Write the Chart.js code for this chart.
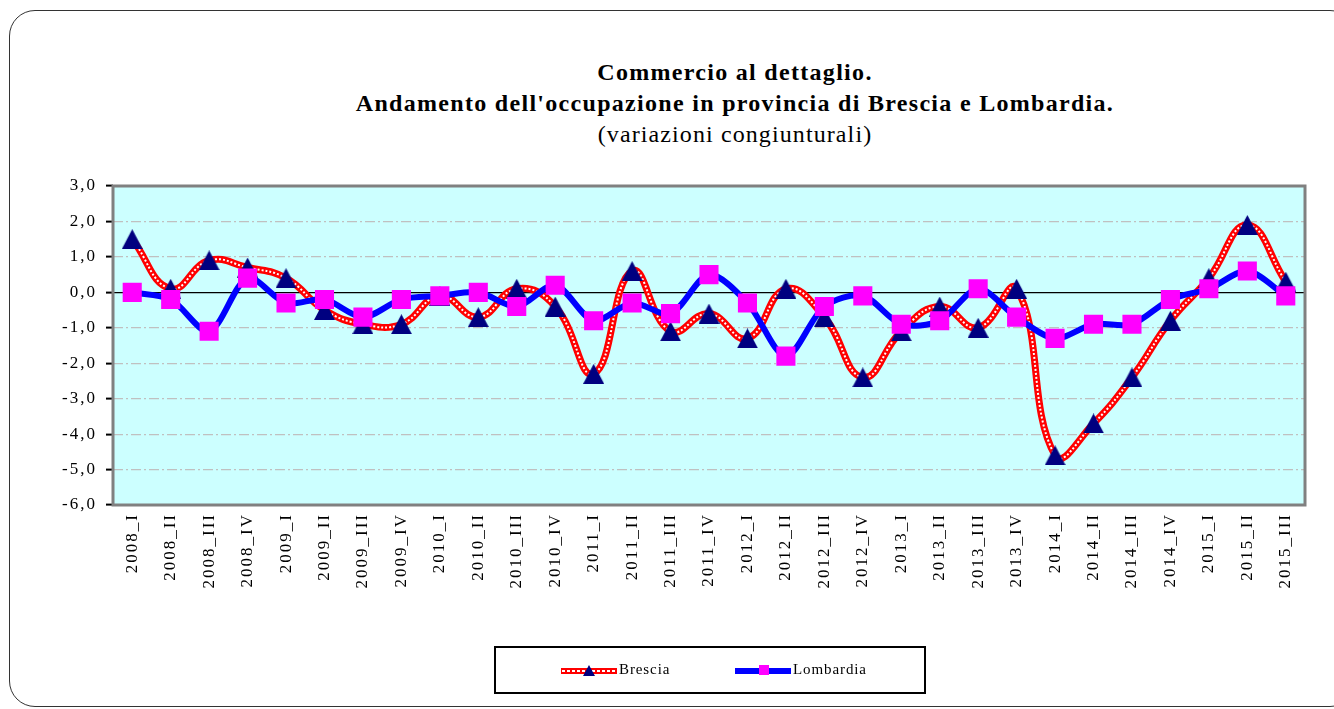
<!DOCTYPE html>
<html>
<head>
<meta charset="utf-8">
<script src="https://cdn.jsdelivr.net/npm/chart.js@4.4.1/dist/chart.umd.min.js"></script>
<style>
  body { margin: 0; background: #fff; width: 1334px; height: 709px; overflow: hidden; position: relative; }
  #frame { position: absolute; left: 9px; top: 10px; width: 1345px; height: 695px; border: 1.5px solid #333; border-radius: 26px; }
  #title { position: absolute; left: 0; top: 57px; width: 1470px; text-align: center; font-family: "Liberation Serif", "Times New Roman", serif; color: #000; }
  #title div { height: 31px; line-height: 31px; font-size: 24px; letter-spacing: 1.1px; }
  #title .b { font-weight: bold; letter-spacing: 1.3px; }
  #chart { position: absolute; left: 0; top: 0; }
  #legend { position: absolute; left: 494px; top: 646px; width: 428px; height: 44px; border: 2px solid #000; font-family: "Liberation Serif", "Times New Roman", serif; font-size: 15px; letter-spacing: 0.9px; }
  .item { position: absolute; top: 0; height: 44px; }
  .line { position: absolute; top: 20px; height: 6px; width: 56px; }
  .txt { position: absolute; top: 13px; }
</style>
</head>
<body>
<div id="frame"></div>
<div id="title">
  <div class="b">Commercio al dettaglio.</div>
  <div class="b">Andamento dell'occupazione in provincia di Brescia e Lombardia.</div>
  <div>(variazioni congiunturali)</div>
</div>
<canvas id="chart" width="1334" height="709"></canvas>
<div id="legend">
  <div class="item" style="left:65px">
    <div class="line" style="background:#ff0000"><div style="position:absolute;left:1px;right:1px;top:2px;height:2px;background:repeating-linear-gradient(90deg,#fff 0 3px,transparent 3px 5px)"></div></div>
    <div style="position:absolute;left:22px;top:17px;width:0;height:0;border-left:6px solid transparent;border-right:6px solid transparent;border-bottom:11px solid #000080"></div>
    <div class="txt" style="left:58px">Brescia</div>
  </div>
  <div class="item" style="left:239px">
    <div class="line" style="background:#0000ff"></div>
    <div style="position:absolute;left:24px;top:17px;width:10px;height:10px;background:#ff00ff"></div>
    <div class="txt" style="left:58px">Lombardia</div>
  </div>
</div>
<script>
const periods = ['2008_I', '2008_II', '2008_III', '2008_IV', '2009_I', '2009_II', '2009_III', '2009_IV',
  '2010_I', '2010_II', '2010_III', '2010_IV', '2011_I', '2011_II', '2011_III', '2011_IV',
  '2012_I', '2012_II', '2012_III', '2012_IV', '2013_I', '2013_II', '2013_III', '2013_IV',
  '2014_I', '2014_II', '2014_III', '2014_IV', '2015_I', '2015_II', '2015_III'];
const brescia = [1.5, 0.1, 0.9, 0.7, 0.4, -0.5, -0.9, -0.9,
  -0.1, -0.7, 0.1, -0.4, -2.3, 0.6, -1.1, -0.6,
  -1.3, 0.1, -0.7, -2.4, -1.1, -0.4, -1.0, 0.1,
  -4.6, -3.7, -2.4, -0.8, 0.4, 1.9, 0.3];
const lombardia = [0.0, -0.2, -1.1, 0.4, -0.3, -0.2, -0.7, -0.2,
  -0.1, 0.0, -0.4, 0.2, -0.8, -0.3, -0.6, 0.5,
  -0.3, -1.8, -0.4, -0.1, -0.9, -0.8, 0.1, -0.7,
  -1.3, -0.9, -0.9, -0.2, 0.1, 0.6, -0.1];
const yMin = -6, yMax = 3;

// Excel style triangle: centred on its bounding box, not on its circumcentre
const tri = document.createElement('canvas');
tri.width = 21;
tri.height = 20;
const tctx = tri.getContext('2d');
tctx.fillStyle = '#000080';
tctx.beginPath();
tctx.moveTo(10.5, 0);
tctx.lineTo(21, 20);
tctx.lineTo(0, 20);
tctx.closePath();
tctx.fill();

// plot area background and grey frame like the Excel original
const plotFrame = {
  id: 'plotFrame',
  beforeDraw(chart) {
    const { ctx, chartArea: a } = chart;
    ctx.save();
    ctx.fillStyle = '#ccffff';
    ctx.fillRect(a.left, a.top, a.right - a.left, a.bottom - a.top);
    ctx.restore();
    ctx.letterSpacing = '2px';
  },
  beforeDatasetsDraw(chart) {
    const { ctx, chartArea: a } = chart;
    ctx.save();
    ctx.strokeStyle = '#808080';
    ctx.lineWidth = 3;
    ctx.strokeRect(a.left, a.top, a.right - a.left, a.bottom - a.top);
    ctx.restore();
  },
  afterDraw(chart) {
    chart.ctx.letterSpacing = '0px';
  }
};

const serif = '"Liberation Serif", "Times New Roman", serif';

new Chart(document.getElementById('chart'), {
  type: 'line',
  data: {
    labels: periods,
    datasets: [
      {
        label: 'Lombardia',
        data: lombardia,
        order: 0,
        borderColor: '#0000ff',
        borderWidth: 6,
        tension: 0.3,
        pointStyle: 'rect',
        pointRadius: 13.5,
        pointBackgroundColor: '#ff00ff',
        pointBorderWidth: 0
      },
      {
        label: 'Brescia',
        data: brescia,
        order: 1,
        showLine: false,
        pointStyle: tri,
        pointRadius: 11
      },
      {
        label: 'Brescia dots',
        data: brescia,
        order: 2,
        borderColor: '#ffffff',
        borderWidth: 2,
        borderDash: [2, 2],
        tension: 0.45,
        pointRadius: 0
      },
      {
        label: 'Brescia line',
        data: brescia,
        order: 3,
        borderColor: '#ff0000',
        borderWidth: 7,
        tension: 0.45,
        pointRadius: 0
      }
    ]
  },
  options: {
    responsive: false,
    animation: false,
    layout: { padding: { top: 186, left: 0, right: 29, bottom: 0 } },
    plugins: {
      legend: { display: false },
      title: { display: false },
      tooltip: { enabled: false }
    },
    scales: {
      x: {
        offset: true,
        afterFit(scale) { scale.height = 204; },
        grid: { display: false, drawTicks: false },
        border: { display: false },
        ticks: {
          autoSkip: false,
          minRotation: 90,
          maxRotation: 90,
          padding: 8,
          color: '#000',
          font: { family: serif, size: 17 }
        }
      },
      y: {
        min: yMin,
        max: yMax,
        afterFit(scale) { scale.width = 113; },
        border: {
          display: false,
          dash: (c) => (c.tick && c.tick.value === 0) ? [] : [10, 3, 2, 3]
        },
        grid: {
          color: (c) => {
            const v = c.tick.value;
            if (v === 0) return '#000000';
            if (v === yMin || v === yMax) return 'rgba(0,0,0,0)';
            return '#c0c0c0';
          },
          lineWidth: 1.2,
          tickColor: '#000000',
          tickLength: 7,
          tickWidth: 2
        },
        ticks: {
          stepSize: 1,
          padding: 9,
          color: '#000',
          font: { family: serif, size: 17 },
          callback: (v) => v.toFixed(1).replace('.', ',')
        }
      }
    }
  },
  plugins: [plotFrame]
});
</script>
</body>
</html>
